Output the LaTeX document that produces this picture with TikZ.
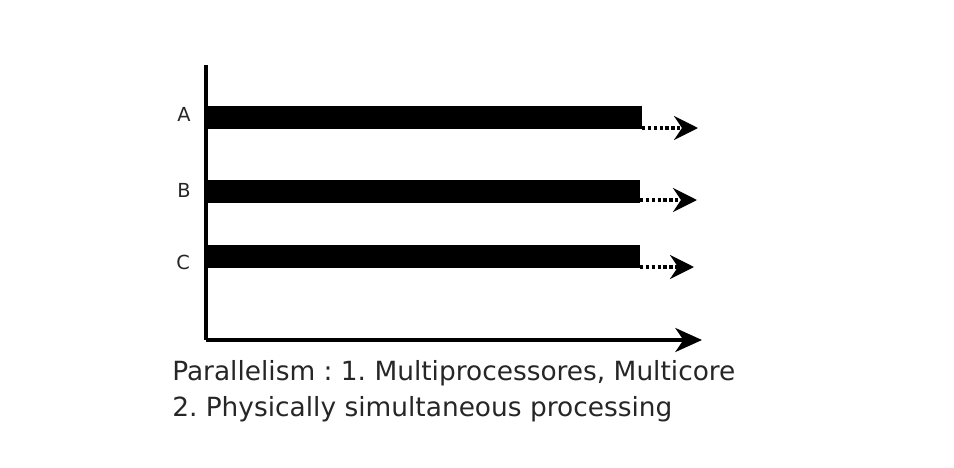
\documentclass[tikz,border=0pt]{standalone}
\usepackage{fontspec}
\setmainfont{DejaVu Sans}
\usetikzlibrary{arrows.meta}

\begin{document}
\frenchspacing
\begin{tikzpicture}[
x=0.75pt, y=-0.75pt,
row label/.style = {text centered, text=black!85, font=\fontsize{14.5}{17}\selectfont},
caption/.style = {anchor=base west, inner sep=0pt, text=black!85, font=\fontsize{19.8}{23}\selectfont},
axis/.style = {line width=2.4pt, -{Stealth[length=20pt, width=18pt, inset=6pt]}},
cont/.style = {line width=2.4pt, dotted, -{Stealth[length=18pt, width=18pt, inset=6pt]}}
]

\useasboundingbox (0,0) rectangle (954,468);

% axes
\coordinate (top) at (206,65);
\coordinate (origin) at (206,340);
\coordinate (right) at (702,340);
\draw[line width=2.4pt] (top) -- (origin);
\draw[axis] (origin) -- (right);

% bars
\fill[black] (206,106) rectangle (642,129);
\fill[black] (206,180) rectangle (640,203);
\fill[black] (206,245) rectangle (640,268);

\node (A) at (184,114) [row label] {A};
\node (B) at (184,190) [row label] {B};
\node (C) at (183,262) [row label] {C};

\coordinate (Aend) at (642,128);
\coordinate (Bend) at (640,200);
\coordinate (Cend) at (640,267);
\coordinate (Atip) at (698,128);
\coordinate (Btip) at (697,200);
\coordinate (Ctip) at (694,267);

\draw[cont] (Aend) -- (Atip);
\draw[cont] (Bend) -- (Btip);
\draw[cont] (Cend) -- (Ctip);

\node (line1) at (172,380) [caption] {Parallelism : 1. Multiprocessores, Multicore};
\node (line2) at (172,416) [caption] {2. Physically simultaneous processing};
\end{tikzpicture}
\end{document}
